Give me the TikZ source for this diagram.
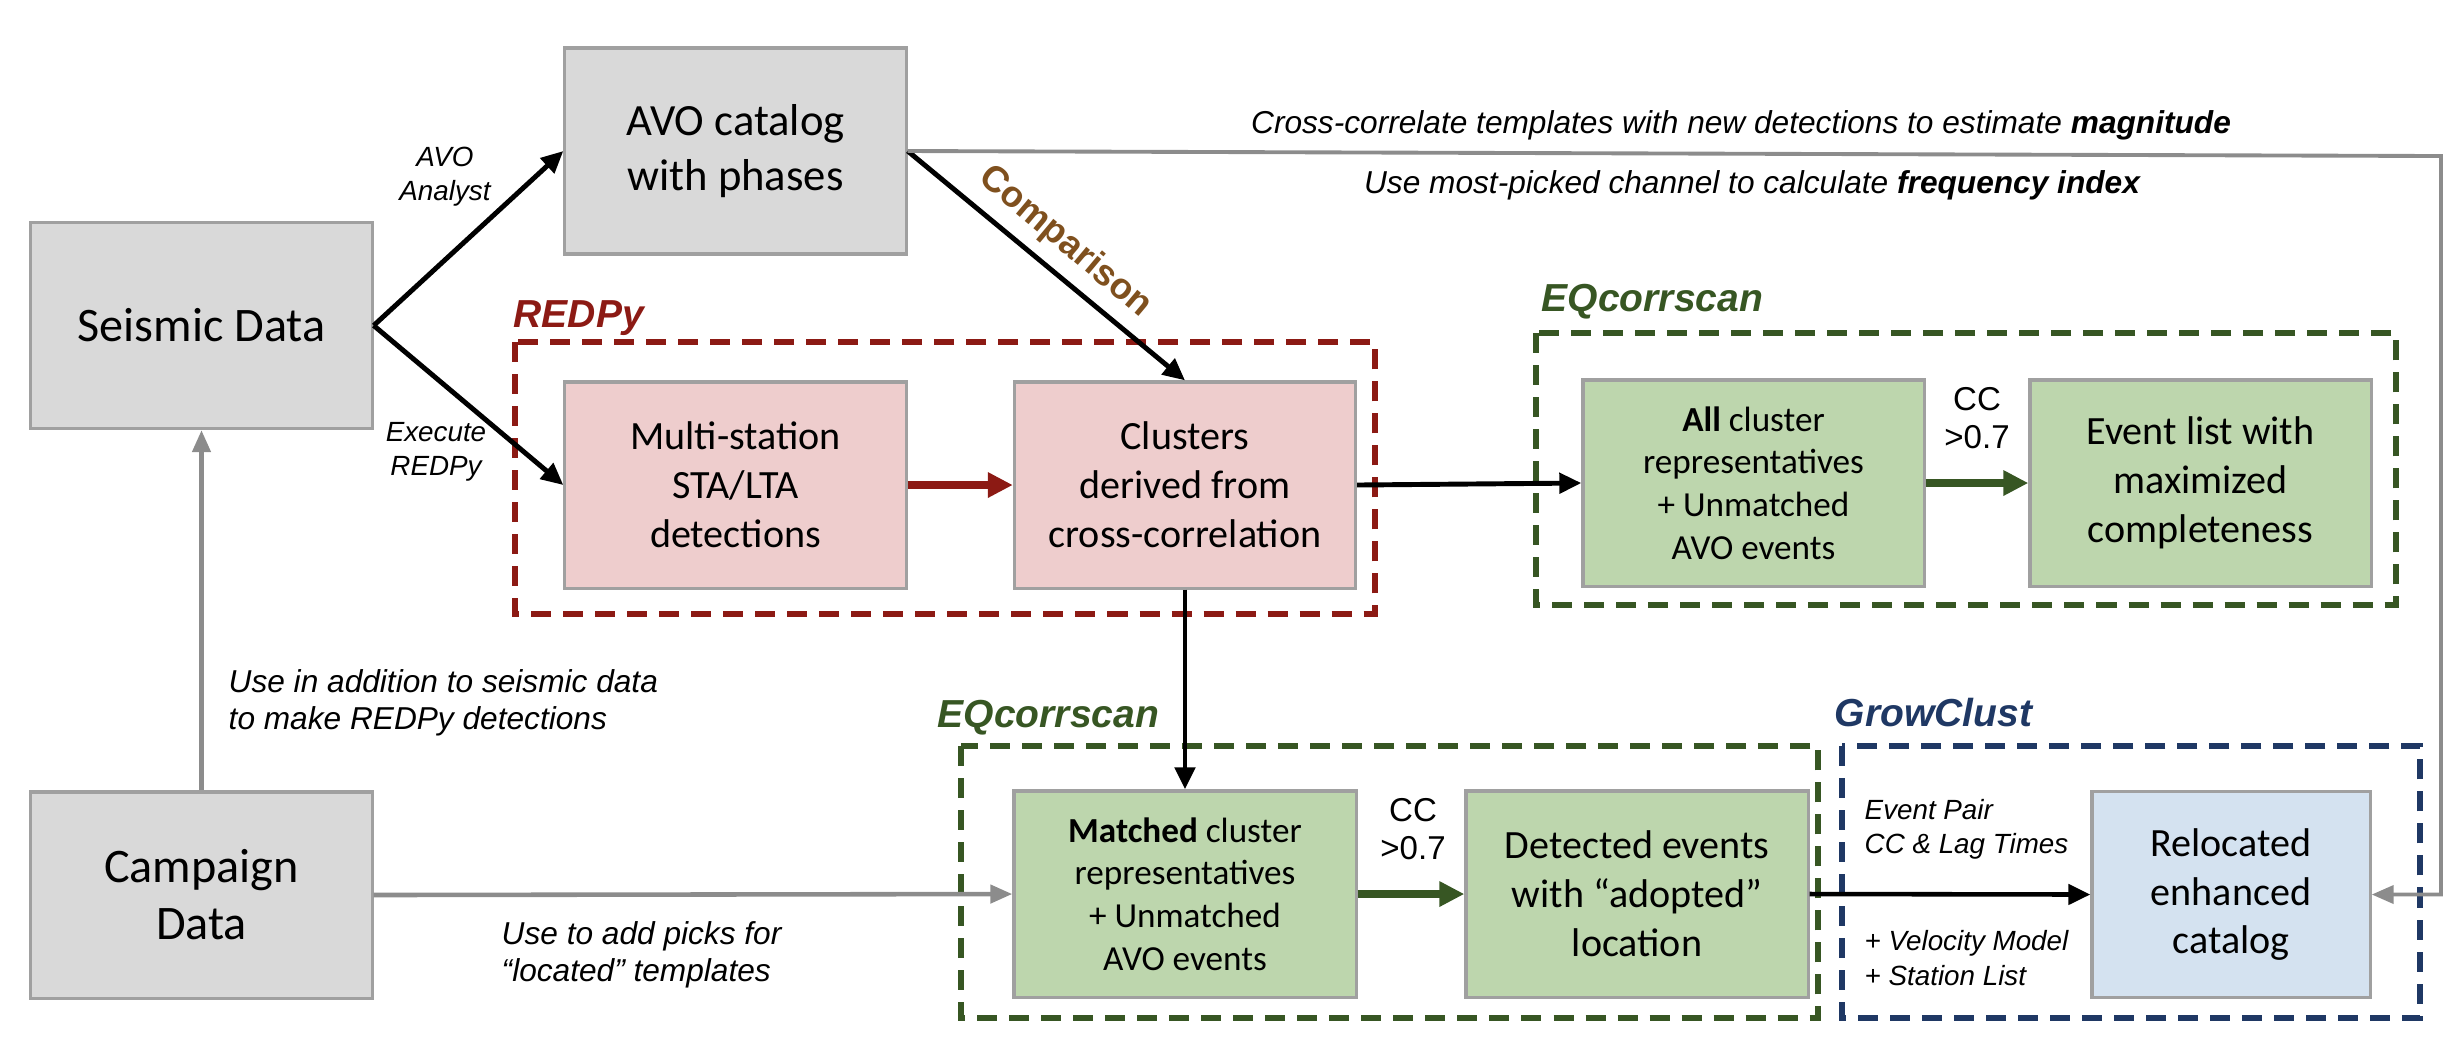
\documentclass[tikz,border=0pt]{standalone}
\usepackage{fontspec}
\setmainfont{Carlito}
\newfontfamily\lblfont{Liberation Sans}
\usetikzlibrary{arrows.meta}

\definecolor{boxgray}{RGB}{217,217,217}
\definecolor{edgegray}{RGB}{160,160,160}
\definecolor{linegray}{RGB}{140,140,140}
\definecolor{redpyfill}{RGB}{238,205,205}
\definecolor{redpyred}{RGB}{140,26,20}
\definecolor{eqfill}{RGB}{189,214,173}
\definecolor{eqgreen}{RGB}{55,86,35}
\definecolor{gcfill}{RGB}{212,226,240}
\definecolor{gcblue}{RGB}{31,56,100}
\definecolor{cmpbrown}{RGB}{127,80,30}

\begin{document}
\begin{tikzpicture}[x=0.01cm,y=-0.01cm,
    box/.style={draw=edgegray,line width=0.9pt,fill=boxgray,minimum width=3.41cm,minimum height=2.06cm,
      inner sep=0pt,align=center,font=\fontsize{11.4}{13.9}\selectfont},
    smalltxt/.style={font=\fontsize{10}{12.1}\selectfont},
    lbl/.style={font=\lblfont\itshape\fontsize{9}{10.6}\selectfont,inner sep=0pt},
    tinylbl/.style={font=\lblfont\itshape\fontsize{7.9}{9.7}\selectfont,inner sep=0pt},
    grouplbl/.style={font=\lblfont\bfseries\itshape\fontsize{11.1}{12}\selectfont,inner sep=0pt,anchor=west},
    group/.style={line width=1.5pt,dash pattern=on 0.2cm off 0.12cm},
    blk/.style={line width=1.4pt,-{Triangle[length=0.22cm,width=0.2cm]}},
    gry/.style={draw=linegray,line width=1.3pt,-{Triangle[length=0.22cm,width=0.18cm]},color=linegray},
    fat/.style={line width=2.3pt,-{Triangle[length=0.25cm,width=0.24cm]}}]
  \useasboundingbox (0,0) rectangle (2458,1050);

  % dashed groups
  \draw[group,redpyred] (515,342) rectangle (1375,614);
  \draw[group,eqgreen] (1536,333) rectangle (2396,605);
  \draw[group,eqgreen] (961,746) rectangle (1818,1018);
  \draw[group,gcblue] (1842,746) rectangle (2420,1018);
  \node[grouplbl,text=redpyred] (redpylbl) at (513,318) {REDPy};
  \node[grouplbl,text=eqgreen] (eqtoplbl) at (1541,302) {EQcorrscan};
  \node[grouplbl,text=eqgreen] (eqlowlbl) at (937,718) {EQcorrscan};
  \node[grouplbl,text=gcblue] (gclbl) at (1834,713) {GrowClust};

  % boxes
  \node[box,font=\fontsize{13.7}{16.2}\selectfont] (seis) at (201.5,325.5) {Seismic Data};
  \node[box,font=\fontsize{12.7}{15.5}\selectfont] (avo) at (735.5,151) {AVO catalog\\with phases};
  \node[box,fill=redpyfill] (multi) at (735.5,485) {Multi-station\\STA/LTA\\detections};
  \node[box,fill=redpyfill] (clus) at (1185,485) {Clusters\\derived from\\cross-correlation};
  \node[box,fill=eqfill,smalltxt] (allc) at (1753.5,483)
    {\textbf{All} cluster\\representatives\\+ Unmatched\\AVO events};
  \node[box,fill=eqfill] (evlist) at (2200.5,483) {Event list with\\maximized\\completeness};
  \node[box,font=\fontsize{13.7}{16.2}\selectfont] (camp) at (201.5,895) {Campaign\\Data};
  \node[box,fill=eqfill,smalltxt,minimum width=3.42cm] (match) at (1185,894) 
    {\textbf{Matched} cluster\\representatives\\+ Unmatched\\AVO events};
  \node[box,fill=eqfill,minimum width=3.42cm] (det) at (1637,894) {Detected events\\with “adopted”\\location};
  \node[box,fill=gcfill,minimum width=2.78cm] (reloc) at (2231,894.5) {Relocated\\enhanced\\catalog};

  % connectors
  \draw[blk] (seis.east) -- (avo.west);
  \draw[blk] (seis.east) -- (multi.west);
  \draw[fat,redpyred,line width=2.1pt] (multi) -- (clus);
  \draw[blk] (avo.east) -- (clus.north);
  \draw[blk] (clus.east) -- (allc.west);
  \draw[fat,eqgreen] (allc) -- (evlist);
  \draw[blk] (clus.south) -- (match.north);
  \draw[fat,eqgreen] (match) -- (det);
  \draw[blk,line width=1.3pt] (det.east) -- (reloc.west);
  \draw[gry] (camp.east) -- (match.west);
  \draw[gry] (camp.north) -- (seis.south);
  \coordinate (corner) at (2441,156);
  \draw[gry,line width=1.1pt] (avo.east) -- (corner) |- (reloc.east);

  % labels
  \node[tinylbl,align=center] (analyst) at (445,177) {AVO\\Analyst};
  \node[tinylbl,align=center] (execute) at (436,452) {Execute\\REDPy};
  \node[lbl] (ccmag) at (1741,125) {Cross-correlate templates with new detections to estimate \textbf{magnitude}};
  \node[lbl] (fidx) at (1752,185) {Use most-picked channel to calculate \textbf{frequency index}};
  \node[font=\lblfont\bfseries\fontsize{10.4}{11}\selectfont,text=cmpbrown,rotate=-40,inner sep=0pt] (cmp) at (1065,242) {Comparison};
  \node[font=\lblfont\fontsize{9.4}{11}\selectfont,align=center,inner sep=0pt] (cctop) at (1977,418) {CC\\>0.7};
  \node[font=\lblfont\fontsize{9.4}{11}\selectfont,align=center,inner sep=0pt] (cclow) at (1413,829) {CC\\>0.7};
  \node[lbl,align=left,anchor=west] (useadd) at (228,703) {Use in addition to seismic data\\to make REDPy detections};
  \node[lbl,align=left,anchor=west] (usepick) at (501,955) {Use to add picks for\\“located” templates};
  \node[tinylbl,align=left,anchor=west] (pair) at (1864,829) {Event Pair\\CC \& Lag Times};
  \node[tinylbl,align=left,anchor=west] (velo) at (1864,958) {+ Velocity Model\\+ Station List};
\end{tikzpicture}
\end{document}
